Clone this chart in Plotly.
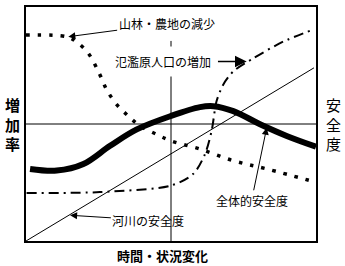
import plotly.graph_objects as go

# --- data (in 0..100 conceptual units) ---
river_x = [0, 99.3]
river_y = [0, 74]

total_x = [1.4, 10.6, 19.8, 29, 38.2, 49.9, 60, 64.6, 71.5, 80.7, 89.9, 100]
total_y = [30.8, 30.1, 32.9, 40.7, 47.7, 53.4, 57.2, 57.6, 55.5, 49.9, 44.9, 40.3]

forest_x = [0, 14, 17.5, 21.5, 25.5, 27.8, 31.3, 35.3, 39.3, 45, 50, 60, 71.5, 83, 100]
forest_y = [88, 87.3, 85, 80.2, 71, 64.7, 58.3, 53.4, 49.2, 45.6, 42.8, 39.3, 34.3, 30.8, 25.1]

pop_x = [0.2, 25.5, 50, 57.7, 61.7, 64, 65.7, 68, 71.5, 78.4, 88.7, 98.5]
pop_y = [20.5, 20.9, 23.7, 28.7, 37.1, 47, 59.7, 66.8, 72.5, 78.1, 85.2, 90.1]

cross_x = 50
cross_y = 50
cross_top = 85.5

labels = ["山林・農地の減少", "氾濫原人口の増加", "全体的安全度", "河川の安全度"]
label_pos = [(48.5, 92.9), (47.4, 76.7), (77.8, 17.4), (42.2, 8.9)]
arrow_heads = [(14.6, 87.3), (76.1, 76.7), (83, 48.4), (15.2, 11)]

y_left_title = "<b>増<br>加<br>率</b>"
y_right_title = "安<br>全<br>度"
x_title = "<b>時間・状況変化</b>"

FONT = "Noto Sans CJK JP"

fig = go.Figure()

fig.add_trace(go.Scatter(x=river_x, y=river_y, mode="lines",
                         line=dict(color="black", width=1), hoverinfo="skip"))
fig.add_trace(go.Scatter(x=forest_x, y=forest_y, mode="lines",
                         line=dict(color="black", width=3.5, dash="3.5px,8px", shape="spline", smoothing=1.0),
                         hoverinfo="skip"))
fig.add_trace(go.Scatter(x=pop_x, y=pop_y, mode="lines",
                         line=dict(color="black", width=2, dash="10px,5px,2px,5px", shape="spline", smoothing=0.8),
                         hoverinfo="skip"))
fig.add_trace(go.Scatter(x=total_x, y=total_y, mode="lines",
                         line=dict(color="black", width=6, shape="spline", smoothing=1.0),
                         hoverinfo="skip"))

# crosshair
fig.add_shape(type="line", x0=0, x1=100, y0=cross_y, y1=cross_y,
              line=dict(color="black", width=1), layer="below")
fig.add_shape(type="line", x0=cross_x, x1=cross_x, y0=-1.5, y1=cross_top,
              line=dict(color="black", width=1), layer="below")

for i, (txt, (tx, ty), (hx, hy)) in enumerate(zip(labels, label_pos, arrow_heads)):
    fig.add_annotation(x=hx, y=hy, ax=tx, ay=ty, xref="x", yref="y", axref="x", ayref="y",
                       text=txt, showarrow=True, arrowhead=2,
                       arrowsize=1.8 if i == 1 else 1.4, arrowwidth=1.3 if i == 1 else 1.0,
                       arrowcolor="black",
                       font=dict(family=FONT, size=12, color="black"),
                       bgcolor="white" if i == 1 else "rgba(0,0,0,0)", borderpad=6 if i == 1 else 1)

fig.add_annotation(x=-0.048, y=0.5, xref="paper", yref="paper", text=y_left_title,
                   showarrow=False, font=dict(family=FONT, size=15, color="black"),
                   xanchor="center", yanchor="middle")
fig.add_annotation(x=1.059, y=0.5, xref="paper", yref="paper", text=y_right_title,
                   showarrow=False, font=dict(family=FONT, size=15, color="black"),
                   xanchor="center", yanchor="middle")
fig.add_annotation(x=0.47, y=-0.06, xref="paper", yref="paper", text=x_title,
                   showarrow=False, font=dict(family=FONT, size=13, color="black"),
                   xanchor="center", yanchor="middle")

fig.update_xaxes(range=[0, 100], showgrid=False, zeroline=False, showticklabels=False,
                 ticks="", showline=True, mirror=True, linecolor="black", linewidth=1.5)
fig.update_yaxes(range=[0, 100], showgrid=False, zeroline=False, showticklabels=False,
                 ticks="", showline=True, mirror=True, linecolor="black", linewidth=1.5)

fig.update_layout(width=345, height=266, margin=dict(l=26, r=29, t=5, b=25),
                  paper_bgcolor="white", plot_bgcolor="white", showlegend=False)

fig.write_html("out.html")
